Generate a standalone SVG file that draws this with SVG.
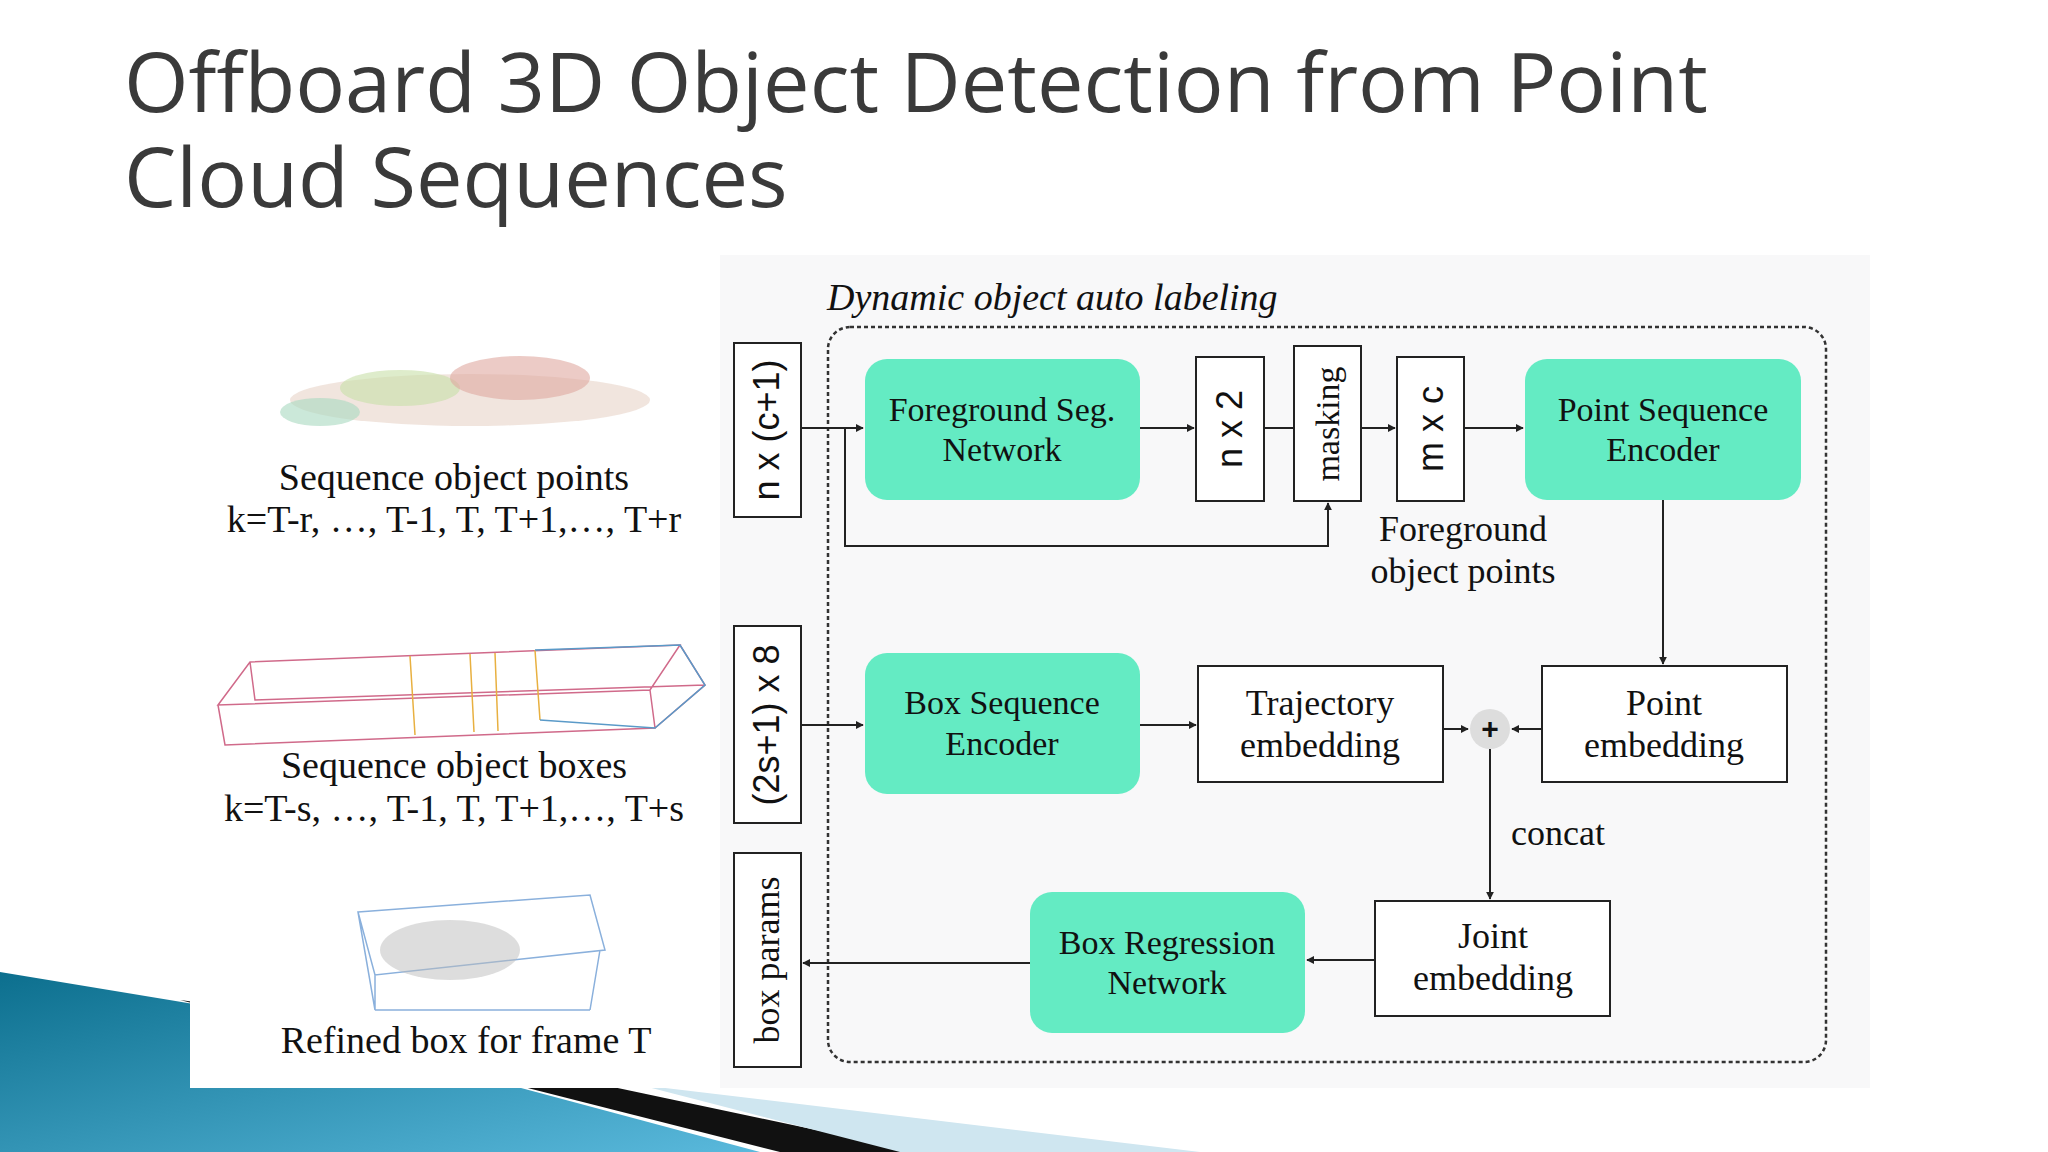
<svg xmlns="http://www.w3.org/2000/svg" width="2048" height="1152" viewBox="0 0 2048 1152">
<defs>
<style>
.t{font-family:"Liberation Serif",serif;fill:#111;text-anchor:middle}
.s{font-family:"Liberation Sans",sans-serif;fill:#111;text-anchor:middle}
.g{fill:#64ebc3}
.w{fill:#fff;stroke:#222;stroke-width:2}
.ln{fill:none;stroke:#222;stroke-width:2}
</style>
<marker id="a" viewBox="0 0 10 10" refX="9" refY="5" markerWidth="8" markerHeight="8" orient="auto" markerUnits="userSpaceOnUse"><path d="M0,0L10,5L0,10z" fill="#222"/></marker>
<linearGradient id="bl" x1="0" y1="0" x2="1" y2="1"><stop offset="0" stop-color="#0c6f8e"/><stop offset="1" stop-color="#5ab9dc"/></linearGradient>
</defs>
<rect width="2048" height="1152" fill="#fff"/>
<polygon points="0,972 230,1010 760,1152 0,1152" fill="url(#bl)"/>
<polygon points="180,1000 240,1008 920,1152 780,1152" fill="#111"/>
<polygon points="640,1085 1200,1152 900,1152" fill="#cfe6f0"/>
<rect x="190" y="255" width="1680" height="833" fill="#fff"/>
<rect x="720" y="255" width="1150" height="833" fill="#f8f8f9"/>
<text x="124" y="112" font-family="'Open Sans','DejaVu Sans',sans-serif" font-size="83" fill="#3a3a3a">Offboard 3D Object Detection from Point</text>
<text x="124" y="207" font-family="'Open Sans','DejaVu Sans',sans-serif" font-size="83" fill="#3a3a3a">Cloud Sequences</text>
<g id="images">
<ellipse cx="470" cy="400" rx="180" ry="26" fill="#e8d4c8" opacity="0.6"/>
<ellipse cx="400" cy="388" rx="60" ry="18" fill="#c8e0a8" opacity="0.6"/>
<ellipse cx="520" cy="378" rx="70" ry="22" fill="#e0a8a0" opacity="0.6"/>
<ellipse cx="320" cy="412" rx="40" ry="14" fill="#a8d8c0" opacity="0.6"/>
<g fill="none" stroke-width="1.5">
<path d="M218,705 L250,662 L680,645 L650,690Z M218,705 L225,745 L655,728 L650,690 M680,645 L705,685 L655,728 M250,662 L255,700 L705,685" stroke="#d06a8a"/>
<path d="M535,650 L540,720 M410,656 L415,735 M470,654 L474,732 M495,653 L498,731" stroke="#e8b040"/>
<path d="M535,650 L680,645 L705,685 L655,728 L540,720" stroke="#5a9ac8"/>
<path d="M358,912 L590,895 L605,950 L375,975Z M358,912 L375,1010 M375,975 L375,1010 M600,950 L590,1010 M375,1010 L590,1010" stroke="#8ab0dc"/>
</g>
<ellipse cx="450" cy="950" rx="70" ry="30" fill="#bbb" opacity="0.5"/>
</g>
<g id="labels-left">
<text class="t" x="454" y="490" font-size="38">Sequence object points</text>
<text class="t" x="454" y="532" font-size="38">k=T-r, …, T-1, T, T+1,…, T+r</text>
<text class="t" x="454" y="778" font-size="38">Sequence object boxes</text>
<text class="t" x="454" y="821" font-size="38">k=T-s, …, T-1, T, T+1,…, T+s</text>
<text class="t" x="466" y="1053" font-size="38">Refined box for frame T</text>
</g>
<g id="container">
<rect x="828" y="327" width="998" height="735" rx="22" fill="none" stroke="#333" stroke-width="2.5" stroke-dasharray="4,3"/>
<text x="827" y="310" font-family="'Liberation Serif',serif" font-style="italic" font-size="38" fill="#111">Dynamic object auto labeling</text>
</g>
<g id="nc1"><rect class="w" x="734" y="343" width="67" height="174"/><text class="s" font-size="36" transform="translate(779,430) rotate(-90)">n x (c+1)</text></g>
<g id="fsn"><rect class="g" x="865" y="359" width="275" height="141" rx="22"/><text class="t" x="1002" y="421" font-size="34">Foreground Seg.</text><text class="t" x="1002" y="461" font-size="34">Network</text></g>
<g id="n2"><rect class="w" x="1196" y="357" width="68" height="144"/><text class="s" font-size="36" transform="translate(1242,429) rotate(-90)">n x 2</text></g>
<g id="mask"><rect class="w" x="1294" y="346" width="67" height="155"/><text class="t" font-size="34" transform="translate(1339,424) rotate(-90)">masking</text></g>
<g id="mc"><rect class="w" x="1397" y="357" width="67" height="144"/><text class="s" font-size="36" transform="translate(1443,429) rotate(-90)">m x c</text></g>
<g id="pse"><rect class="g" x="1525" y="359" width="276" height="141" rx="22"/><text class="t" x="1663" y="421" font-size="34">Point Sequence</text><text class="t" x="1663" y="461" font-size="34">Encoder</text></g>
<g id="fop"><text class="t" x="1463" y="541" font-size="36">Foreground</text><text class="t" x="1463" y="583" font-size="36">object points</text></g>
<g id="s8"><rect class="w" x="734" y="626" width="67" height="197"/><text class="s" font-size="36" transform="translate(779,725) rotate(-90)">(2s+1) x 8</text></g>
<g id="bse"><rect class="g" x="865" y="653" width="275" height="141" rx="22"/><text class="t" x="1002" y="714" font-size="34">Box Sequence</text><text class="t" x="1002" y="755" font-size="34">Encoder</text></g>
<g id="te"><rect class="w" x="1198" y="666" width="245" height="116"/><text class="t" x="1320" y="715" font-size="36">Trajectory</text><text class="t" x="1320" y="757" font-size="36">embedding</text></g>
<g id="pe"><rect class="w" x="1542" y="666" width="245" height="116"/><text class="t" x="1664" y="715" font-size="36">Point</text><text class="t" x="1664" y="757" font-size="36">embedding</text></g>
<g id="plus"><circle cx="1490" cy="729" r="20" fill="#ddd"/><text class="s" x="1490" y="739" font-size="30" font-weight="bold">+</text></g>
<g id="concat"><text class="t" x="1558" y="845" font-size="36">concat</text></g>
<g id="je"><rect class="w" x="1375" y="901" width="235" height="115"/><text class="t" x="1493" y="948" font-size="36">Joint</text><text class="t" x="1493" y="990" font-size="36">embedding</text></g>
<g id="brn"><rect class="g" x="1030" y="892" width="275" height="141" rx="22"/><text class="t" x="1167" y="954" font-size="34">Box Regression</text><text class="t" x="1167" y="994" font-size="34">Network</text></g>
<g id="bp"><rect class="w" x="734" y="853" width="67" height="214"/><text class="t" font-size="36" transform="translate(779,960) rotate(-90)">box params</text></g>
<g id="connectors">
<path class="ln" d="M801,428H863" marker-end="url(#a)"/>
<path class="ln" d="M845,428V546H1328V503" marker-end="url(#a)"/>
<path class="ln" d="M1140,428H1194" marker-end="url(#a)"/>
<path class="ln" d="M1264,428H1294"/>
<path class="ln" d="M1361,428H1395" marker-end="url(#a)"/>
<path class="ln" d="M1464,428H1523" marker-end="url(#a)"/>
<path class="ln" d="M1663,500V664" marker-end="url(#a)"/>
<path class="ln" d="M801,725H863" marker-end="url(#a)"/>
<path class="ln" d="M1140,725H1196" marker-end="url(#a)"/>
<path class="ln" d="M1443,729H1468" marker-end="url(#a)"/>
<path class="ln" d="M1542,729H1512" marker-end="url(#a)"/>
<path class="ln" d="M1490,749V899" marker-end="url(#a)"/>
<path class="ln" d="M1375,960H1307" marker-end="url(#a)"/>
<path class="ln" d="M1030,963H803" marker-end="url(#a)"/>
</g>
</svg>
